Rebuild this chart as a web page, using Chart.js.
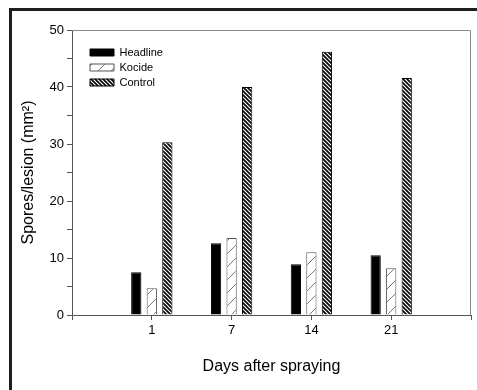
<!DOCTYPE html>
<html>
<head>
<meta charset="utf-8">
<script src="https://cdn.jsdelivr.net/npm/chart.js@4/dist/chart.umd.min.js"></script>
<style>
  html, body { margin: 0; padding: 0; background: #fff; overflow: hidden; }
  #myChart { display: block; }
</style>
</head>
<body>
<canvas id="myChart" width="477" height="390"></canvas>
<script>
// days after spraying (blank slots at both ends pad the axis)
const days = ['', '1', '7', '14', '21', ''];
const headline = [null, 7.5, 12.6, 8.9, 10.5, null];
const kocide = [null, 4.7, 13.5, 11.0, 8.2, null];
const control = [null, 30.3, 40.0, 46.2, 41.6, null];
const yTicks = [0, 10, 20, 30, 40, 50];

const FONT = 'Arial, "Liberation Sans", sans-serif';

function makePattern(size, draw) {
    const c = document.createElement('canvas');
    c.width = size;
    c.height = size;
    const g = c.getContext('2d');
    g.fillStyle = '#fff';
    g.fillRect(0, 0, size, size);
    draw(g, size);
    return g.createPattern(c, 'repeat');
}

// sparse "/" lines
const kocideFill = makePattern(13, (g, s) => {
    g.strokeStyle = '#777';
    g.lineWidth = 1;
    g.beginPath();
    g.moveTo(0, s); g.lineTo(s, 0);
    g.moveTo(-1, 1); g.lineTo(1, -1);
    g.moveTo(s - 1, s + 1); g.lineTo(s + 1, s - 1);
    g.stroke();
});

// dense "\" lines
const controlFill = makePattern(4, (g, s) => {
    g.strokeStyle = '#000';
    g.lineWidth = 1.6;
    g.beginPath();
    g.moveTo(0, 0); g.lineTo(s, s);
    g.moveTo(-1, s - 1); g.lineTo(1, s + 1);
    g.moveTo(s - 1, -1); g.lineTo(s + 1, 1);
    g.stroke();
});

const framePlugin = {
    id: 'frame',
    afterLayout(chart) {
        const a = chart.chartArea;
        chart.legend.left = a.left + 14;
        chart.legend.top = a.top + 13;
    },
    beforeDraw(chart) {
        // page border, left and top only
        const ctx = chart.ctx;
        ctx.save();
        ctx.fillStyle = '#1e1e1e';
        ctx.fillRect(9, 8, 3, chart.height - 8);
        ctx.fillRect(9, 8, chart.width - 9, 3);
        ctx.restore();
    },
    afterDraw(chart) {
        const a = chart.chartArea;
        const ctx = chart.ctx;
        ctx.save();
        ctx.strokeStyle = '#8a8a8a';
        ctx.lineWidth = 1;
        ctx.beginPath();
        ctx.moveTo(a.left, a.top + 0.5);
        ctx.lineTo(a.right - 0.5, a.top + 0.5);
        ctx.lineTo(a.right - 0.5, a.bottom);
        ctx.stroke();
        ctx.restore();
    }
};

new Chart('myChart', {
    type: 'bar',
    data: {
        labels: days,
        datasets: [
            { label: 'Headline', data: headline, backgroundColor: '#000', borderColor: '#000', borderWidth: 1 },
            { label: 'Kocide', data: kocide, backgroundColor: kocideFill, borderColor: '#555', borderWidth: 1 },
            { label: 'Control', data: control, backgroundColor: controlFill, borderColor: '#000', borderWidth: 1 }
        ]
    },
    options: {
        responsive: false,
        animation: false,
        categoryPercentage: 0.584,
        barPercentage: 0.66,
        layout: { padding: { top: 30, right: 6, left: 14, bottom: 0 } },
        plugins: {
            legend: {
                position: 'chartArea',
                align: 'start',
                labels: {
                    boxWidth: 24,
                    boxHeight: 7,
                    padding: 4,
                    color: '#000',
                    font: { family: FONT, size: 11 }
                }
            },
            tooltip: { enabled: false }
        },
        scales: {
            x: {
                offset: false,
                grid: { offset: false, drawOnChartArea: false, tickLength: 5, color: '#555', tickColor: '#555' },
                border: { color: '#555' },
                ticks: { color: '#000', padding: 3, font: { family: FONT, size: 13 }, maxRotation: 0, autoSkip: false },
                title: { display: true, text: 'Days after spraying', color: '#000', font: { family: FONT, size: 16 }, padding: { top: 0, bottom: 14 } },
                afterFit(scale) { scale.height = 75; }
            },
            y: {
                min: 0,
                max: 50,
                afterBuildTicks(scale) {
                    scale.ticks = [0, 5, 10, 15, 20, 25, 30, 35, 40, 45, 50].map(v => ({ value: v }));
                },
                grid: { drawOnChartArea: false, tickLength: 5, color: '#555', tickColor: '#555' },
                border: { color: '#555' },
                ticks: {
                    color: '#000',
                    padding: 3,
                    font: { family: FONT, size: 13 },
                    callback: (v) => yTicks.includes(v) ? String(v) : ''
                },
                title: { display: true, text: 'Spores/lesion (mm²)', color: '#000', font: { family: FONT, size: 16 }, padding: { top: 5, bottom: 0 } },
                afterFit(scale) { scale.width = 58; }
            }
        }
    },
    plugins: [framePlugin]
});
</script>
</body>
</html>
